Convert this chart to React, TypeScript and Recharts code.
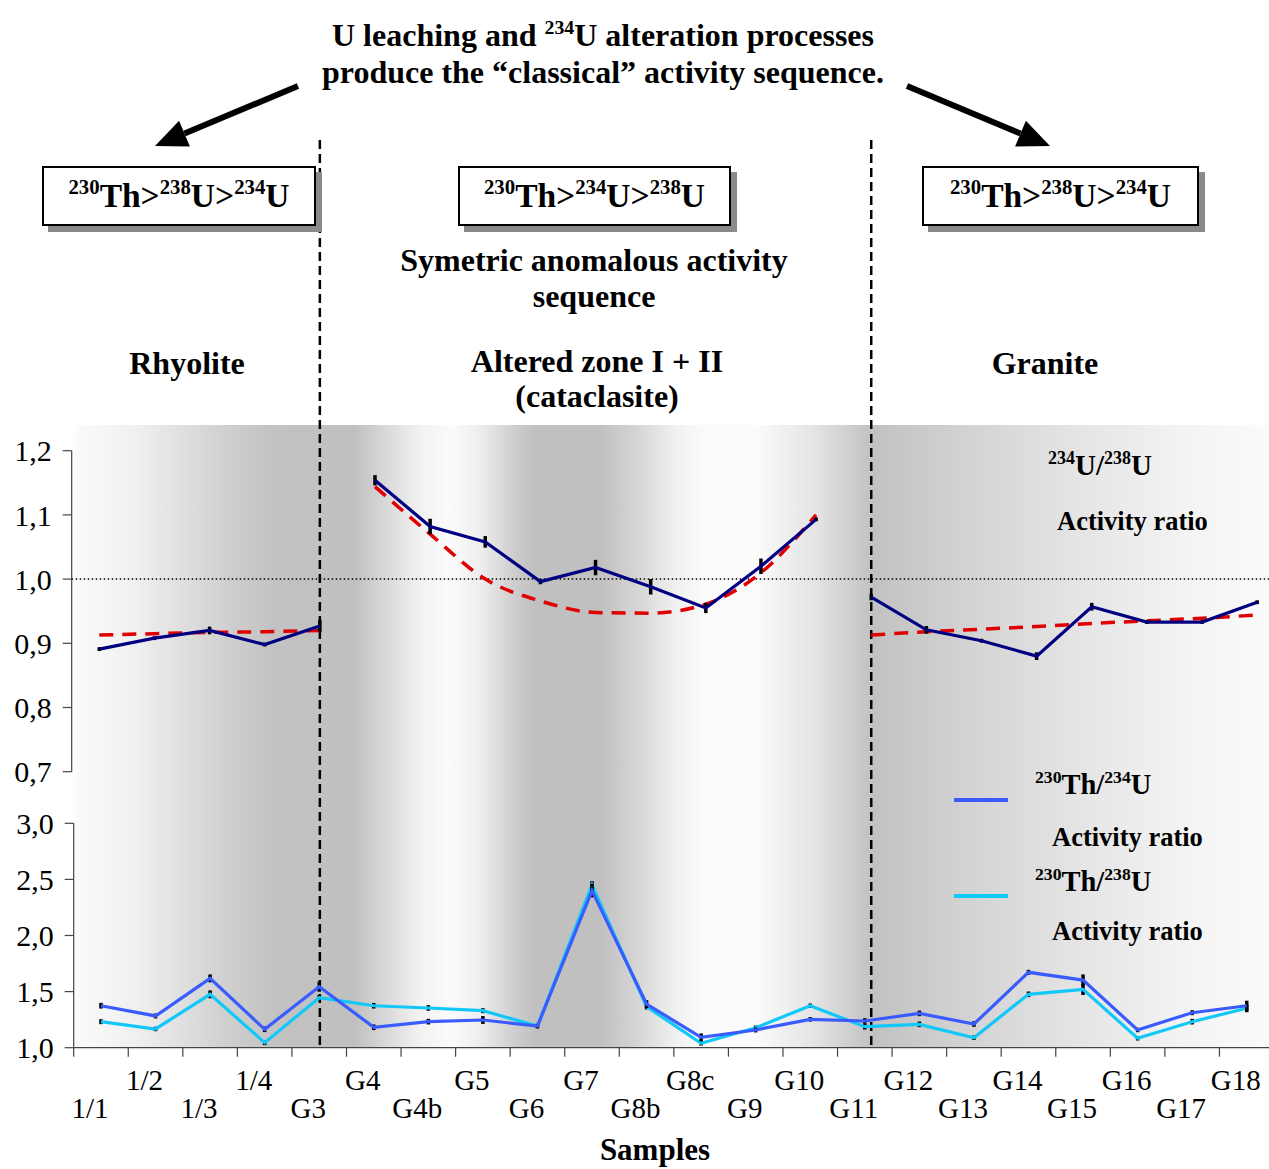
import React from 'react';
import { LineChart, Line, XAxis, YAxis, ReferenceLine, ErrorBar, Legend } from 'recharts';

// ---------- data ----------
const samples = ['1/1', '1/2', '1/3', '1/4', 'G3', 'G4', 'G4b', 'G5', 'G6', 'G7', 'G8b', 'G8c', 'G9', 'G10', 'G11', 'G12', 'G13', 'G14', 'G15', 'G16', 'G17', 'G18'];
const zones = ['R', 'R', 'R', 'R', 'R', 'A', 'A', 'A', 'A', 'A', 'A', 'A', 'A', 'A', 'G', 'G', 'G', 'G', 'G', 'G', 'G', 'G'];

const u234u238 = [0.891, 0.908, 0.92, 0.898, 0.927, 1.154, 1.082, 1.058, 0.996, 1.018, 0.988, 0.955, 1.02, 1.093, 0.972, 0.921, 0.904, 0.88, 0.957, 0.933, 0.933, 0.964];
const u234u238Err = [0.003, 0.003, 0.006, 0.003, 0.009, 0.008, 0.012, 0.009, 0.004, 0.012, 0.012, 0.008, 0.012, 0.003, 0.005, 0.006, 0.003, 0.006, 0.006, 0.003, 0.003, 0.003];

const trendRhyolite = [0.913, 0.915, 0.917, 0.918, 0.92, null, null, null, null, null, null, null, null, null, null, null, null, null, null, null, null, null];
const trendAltered = [null, null, null, null, null, 1.144, 1.07, 1.0, 0.966, 0.948, 0.947, 0.961, 1.01, 1.1, null, null, null, null, null, null, null, null];
const trendGranite = [null, null, null, null, null, null, null, null, null, null, null, null, null, null, 0.913, 0.918, 0.922, 0.926, 0.931, 0.935, 0.939, 0.944];

const th230u234 = [1.374, 1.283, 1.618, 1.164, 1.544, 1.182, 1.232, 1.247, 1.193, 2.4, 1.389, 1.092, 1.158, 1.253, 1.238, 1.306, 1.211, 1.672, 1.603, 1.158, 1.312, 1.374];
const th230u234Err = [0.025, 0.022, 0.035, 0.025, 0.045, 0.025, 0.025, 0.035, 0.02, 0.06, 0.035, 0.035, 0.022, 0.02, 0.025, 0.025, 0.025, 0.022, 0.05, 0.02, 0.022, 0.045];
const th230u238 = [1.232, 1.167, 1.476, 1.045, 1.446, 1.374, 1.354, 1.33, 1.193, 2.45, 1.366, 1.039, 1.178, 1.374, 1.187, 1.208, 1.089, 1.476, 1.52, 1.084, 1.232, 1.351];
const th230u238Err = [0.022, 0.02, 0.035, 0.022, 0.025, 0.025, 0.025, 0.022, 0.02, 0.035, 0.025, 0.02, 0.02, 0.02, 0.025, 0.025, 0.02, 0.025, 0.05, 0.02, 0.025, 0.035];

const topTicks = [0.7, 0.8, 0.9, 1.0, 1.1, 1.2];
const bottomTicks = [1.0, 1.5, 2.0, 2.5, 3.0];

const seriesNames = { u: '234U/238U', t234: '230Th/234U', t238: '230Th/238U' };
const zoneBoundaries = ['G3', 'G11'];

const rows = samples.map((s, i) => ({
  sample: s,
  uR: zones[i] === 'R' ? u234u238[i] : null,
  uA: zones[i] === 'A' ? u234u238[i] : null,
  uG: zones[i] === 'G' ? u234u238[i] : null,
  uErr: u234u238Err[i],
  trendR: trendRhyolite[i],
  trendA: trendAltered[i],
  trendG: trendGranite[i],
  t234: th230u234[i],
  t234Err: th230u234Err[i],
  t238: th230u238[i],
  t238Err: th230u238Err[i],
}));

// ---------- styles ----------
const FONT = '"Liberation Serif", "Times New Roman", serif';
const NAVY = '#000080';
const BLUE = '#3A5CFF';
const CYAN = '#12C8F8';
const RED = '#E00000';
const AXIS = '#444';

const fmt = (v: number) => v.toFixed(1).replace('.', ',');

const Iso = ({ text }: { text: string }) => {
  const parts = text.split(/(\d+)/).filter((p) => p.length > 0);
  return (
    <>
      {parts.map((p, i) =>
        /^\d+$/.test(p) ? (
          <span key={i} style={{ fontSize: '0.62em', position: 'relative', top: '-0.62em', lineHeight: 0 }}>{p}</span>
        ) : (
          <span key={i}>{p}</span>
        )
      )}
    </>
  );
};

const Label = ({ cx, base, size, children, left }: { cx?: number; base: number; size: number; children: React.ReactNode; left?: number }) => {
  const style: React.CSSProperties = {
    position: 'absolute',
    top: base - 0.8375 * size,
    fontSize: size,
    lineHeight: size + 'px',
    fontWeight: 700,
    whiteSpace: 'nowrap',
    fontFamily: FONT,
    color: '#000',
  };
  if (left !== undefined) {
    style.left = left;
  } else {
    style.left = (cx as number) - 400;
    style.width = 800;
    style.textAlign = 'center';
  }
  return <div style={style}>{children}</div>;
};

const HB_BOTTOM = 27.28;

const SampleTick = (props: any) => {
  const { x, y, payload, index } = props;
  const axisY = y - 9;
  const upper = index % 2 === 1;
  return (
    <g>
      <line x1={x - HB_BOTTOM} x2={x - HB_BOTTOM} y1={axisY} y2={axisY + 9} stroke={AXIS} strokeWidth={1.2} />
      <text x={x - 11} y={axisY + (upper ? 42 : 70)} textAnchor="middle" fontFamily={FONT} fontSize={29} fill="#000">
        {payload.value}
      </text>
    </g>
  );
};

const TopLegend = (props: any) => {
  const entry = (props.payload || []).find((e: any) => e.value === seriesNames.u);
  if (!entry) return null;
  return (
    <div style={{ position: 'relative', width: 260, height: 110, fontFamily: FONT }}>
      <Label left={10} base={35} size={29}><Iso text={entry.value} /></Label>
      <Label left={19} base={90} size={26.5}>Activity ratio</Label>
    </div>
  );
};

const BottomLegend = (props: any) => {
  const order = [seriesNames.t234, seriesNames.t238];
  const items = (props.payload || []).slice().sort((a: any, b: any) => order.indexOf(a.value) - order.indexOf(b.value));
  return (
    <div style={{ position: 'relative', width: 320, height: 200, fontFamily: FONT }}>
      {items.map((entry: any, i: number) => (
        <React.Fragment key={entry.value}>
          <div style={{ position: 'absolute', left: 24, top: 38 + i * 96, width: 54, height: 4, background: entry.color }} />
          <Label left={105} base={35 + i * 97} size={28.5}><Iso text={entry.value} /></Label>
          <Label left={122} base={86 + i * 94} size={26.5}>Activity ratio</Label>
        </React.Fragment>
      ))}
    </div>
  );
};

const bgGradient =
  'linear-gradient(to right, #fbfbfb 0px, #f0f0f0 60px, #d0d0d0 150px, #c2c2c2 200px, #c0c0c0 280px, #d8d8d8 310px, #f2f2f2 345px, #fbfbfb 375px, #eeeeee 405px, #cdcdcd 440px, #c0c0c0 460px, #c0c0c0 525px, #d4d4d4 560px, #f0f0f0 600px, #fbfbfb 630px, #fbfbfb 680px, #e4e4e4 740px, #c4c4c4 793px, #c2c2c2 800px, #d4d4d4 900px, #e4e4e4 1000px, #f2f2f2 1100px, #fbfbfb 1194px)';

const Box = ({ left, width }: { left: number; width: number }) => (
  <div
    style={{
      position: 'absolute',
      left,
      top: 166,
      width,
      height: 60,
      border: '2px solid #000',
      background: '#fff',
      boxShadow: '6px 6px 0 #8a8a8a',
      boxSizing: 'border-box',
    }}
  />
);

const lineCommon = { strokeWidth: 3.2, dot: false, isAnimationActive: false } as const;
const trendCommon = { stroke: RED, strokeWidth: 3.5, strokeDasharray: '14 9', dot: false, isAnimationActive: false, legendType: 'none' } as const;

export default function App() {
  return (
    <div style={{ position: 'absolute', left: 0, top: 0, width: 1269, height: 1169, overflow: 'hidden', background: '#fff', fontFamily: FONT }}>
      <div style={{ position: 'absolute', left: 75, top: 425, width: 1194, height: 623, background: bgGradient }} />

      {/* top panel */}
      <div style={{ position: 'absolute', left: 0, top: 0 }}>
        <LineChart width={1300} height={1169} data={rows} margin={{ top: 450.7, right: 15.2, bottom: 397.3, left: 0 }}>
          <XAxis dataKey="sample" hide padding={{ left: 27.6, right: 27.6 }} />
          <YAxis
            width={71.7}
            domain={[0.7, 1.2]}
            ticks={topTicks}
            allowDataOverflow
            interval={0}
            tickFormatter={fmt}
            tickSize={9}
            tickMargin={11}
            axisLine={{ stroke: AXIS, strokeWidth: 1.2 }}
            tickLine={{ stroke: AXIS, strokeWidth: 1.2 }}
            tick={{ fontSize: 30, fill: '#000', fontFamily: FONT }}
          />
          <ReferenceLine y={1} stroke="#000" strokeWidth={1.5} strokeDasharray="1.5 2.5" />
          {zoneBoundaries.map((b) => (
            <ReferenceLine
              key={b}
              segment={[{ x: b, y: 1.684 }, { x: b, y: 0.2696 }]}
              ifOverflow="visible"
              stroke="#000"
              strokeWidth={2.5}
              strokeDasharray="9 5"
            />
          ))}
          <Line dataKey="trendR" name="trendR" {...trendCommon} />
          <Line dataKey="trendA" name="trendA" type="monotone" {...trendCommon} />
          <Line dataKey="trendG" name="trendG" {...trendCommon} />
          <Line dataKey="uR" name={seriesNames.u} stroke={NAVY} {...lineCommon}>
            <ErrorBar dataKey="uErr" width={0} strokeWidth={3.5} stroke="#000" direction="y" />
          </Line>
          <Line dataKey="uA" name="uA" legendType="none" stroke={NAVY} {...lineCommon}>
            <ErrorBar dataKey="uErr" width={0} strokeWidth={3.5} stroke="#000" direction="y" />
          </Line>
          <Line dataKey="uG" name="uG" legendType="none" stroke={NAVY} {...lineCommon}>
            <ErrorBar dataKey="uErr" width={0} strokeWidth={3.5} stroke="#000" direction="y" />
          </Line>
          <Legend
            layout="vertical"
            align="center"
            verticalAlign="middle"
            wrapperStyle={{ left: 1038, top: 440, width: 260 }}
            content={TopLegend}
          />
        </LineChart>
      </div>

      {/* bottom panel */}
      <div style={{ position: 'absolute', left: 0, top: 800 }}>
        <LineChart width={1290} height={369} data={rows} margin={{ top: 23.3, right: 16, bottom: 21.3, left: 0 }}>
          <XAxis
            dataKey="sample"
            height={100}
            padding={{ left: 27.28, right: 27.28 }}
            interval={0}
            tickSize={9}
            tickMargin={0}
            tickLine={false}
            axisLine={{ stroke: AXIS, strokeWidth: 1.2 }}
            tick={<SampleTick />}
          />
          <YAxis
            width={73.7}
            domain={[1, 3]}
            ticks={bottomTicks}
            allowDataOverflow
            interval={0}
            tickFormatter={fmt}
            tickSize={9}
            tickMargin={11}
            axisLine={{ stroke: AXIS, strokeWidth: 1.2 }}
            tickLine={{ stroke: AXIS, strokeWidth: 1.2 }}
            tick={{ fontSize: 30, fill: '#000', fontFamily: FONT }}
          />
          <Line dataKey="t238" name={seriesNames.t238} stroke={CYAN} {...lineCommon}>
            <ErrorBar dataKey="t238Err" width={0} strokeWidth={3.5} stroke="#000" direction="y" />
          </Line>
          <Line dataKey="t234" name={seriesNames.t234} stroke={BLUE} {...lineCommon}>
            <ErrorBar dataKey="t234Err" width={0} strokeWidth={3.5} stroke="#000" direction="y" />
          </Line>
          <Legend
            layout="vertical"
            align="center"
            verticalAlign="middle"
            wrapperStyle={{ left: 930, top: -40, width: 320 }}
            content={BottomLegend}
          />
        </LineChart>
      </div>

      {/* annotations */}
      <svg width={1269} height={420} style={{ position: 'absolute', left: 0, top: 0 }}>
        <line x1={298} y1={86} x2={184.5} y2={133.6} stroke="#000" strokeWidth={6} />
        <polygon points="155,146 189.9,146.5 179.1,120.7" fill="#000" />
        <line x1={907} y1={86} x2={1020.5} y2={133.6} stroke="#000" strokeWidth={6} />
        <polygon points="1050,146 1015.1,146.5 1025.9,120.7" fill="#000" />
      </svg>

      <Box left={42} width={274} />
      <Box left={458} width={273} />
      <Box left={922} width={277} />

      <Label cx={603} base={46} size={32}><Iso text="U leaching and 234U alteration processes" /></Label>
      <Label cx={603} base={83} size={32}>produce the “classical” activity sequence.</Label>
      <Label cx={179} base={207} size={33.5}><Iso text="230Th>238U>234U" /></Label>
      <Label cx={594.5} base={207} size={33.5}><Iso text="230Th>234U>238U" /></Label>
      <Label cx={1060.5} base={207} size={33.5}><Iso text="230Th>238U>234U" /></Label>
      <Label cx={594} base={271} size={32}>Symetric anomalous activity</Label>
      <Label cx={594} base={307} size={32}>sequence</Label>
      <Label cx={187} base={374} size={32}>Rhyolite</Label>
      <Label cx={597} base={372} size={32}>Altered zone I + II</Label>
      <Label cx={597} base={407} size={32}>(cataclasite)</Label>
      <Label cx={1045} base={374} size={32}>Granite</Label>
      <Label cx={655} base={1160} size={31}>Samples</Label>
    </div>
  );
}
